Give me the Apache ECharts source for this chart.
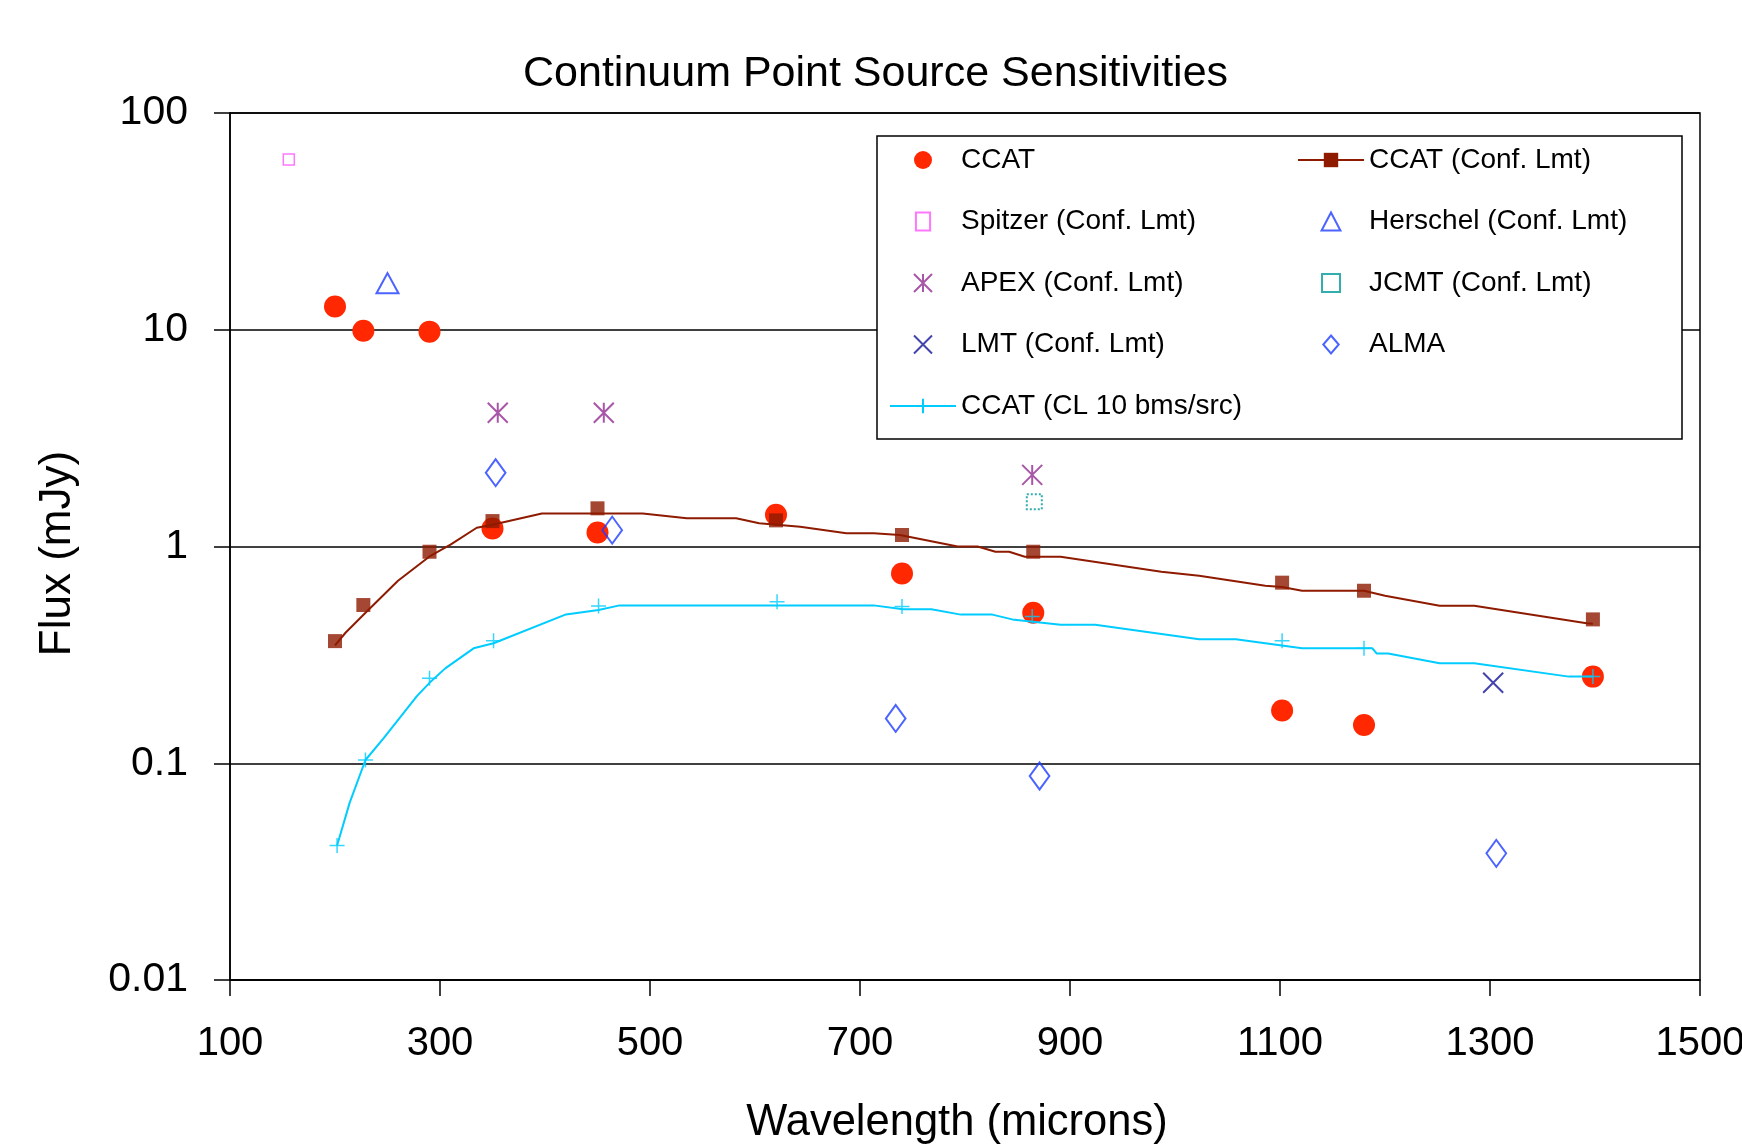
<!DOCTYPE html>
<html>
<head>
<meta charset="utf-8">
<script src="https://cdn.jsdelivr.net/npm/echarts@6/dist/echarts.min.js"></script>
<style>html,body{margin:0;padding:0;background:#fff;overflow:hidden}#c{width:1742px;height:1145px}</style>
</head>
<body>
<div id="c"></div>
<script>
// ---- data (wavelength in microns, flux in mJy) ----
const ccatX = [200, 227, 290, 350, 450, 620, 740, 865, 1102, 1180, 1398];
const ccatY = [12.8, 9.9, 9.8, 1.21, 1.16, 1.40, 0.75, 0.495, 0.175, 0.150, 0.251];

const confMarkX = [200, 227, 290, 350, 450, 620, 740, 865, 1102, 1180, 1398];
const confMarkY = [0.366, 0.537, 0.946, 1.31, 1.50, 1.32, 1.13, 0.946, 0.681, 0.625, 0.461];

const confLineX = [200, 210, 230, 260, 290, 310, 335, 350, 397, 493, 535, 582, 604, 643, 687, 713, 738, 793, 812, 829, 842, 857, 891, 987, 1023, 1086, 1102, 1121, 1180, 1200, 1252, 1285, 1392, 1398];
const confLineY = [0.35, 0.40, 0.50, 0.695, 0.90, 1.02, 1.22, 1.26, 1.42, 1.42, 1.35, 1.35, 1.28, 1.234, 1.15, 1.15, 1.13, 1.0, 1.0, 0.946, 0.946, 0.897, 0.897, 0.765, 0.733, 0.659, 0.65, 0.625, 0.625, 0.593, 0.533, 0.533, 0.442, 0.44];

const clMarkX = [202, 229, 290, 351, 451, 621, 740, 864, 1102, 1180, 1398];
const clMarkY = [0.0417, 0.1035, 0.2466, 0.3675, 0.531, 0.556, 0.528, 0.475, 0.3675, 0.339, 0.251];

const clLineX = [202, 214, 229, 246, 278, 290, 305, 332, 351, 420, 451, 471, 643, 713, 741, 768, 796, 826, 845, 891, 924, 1023, 1058, 1086, 1121, 1188, 1192, 1203, 1252, 1285, 1375, 1398];
const clLineY = [0.0417, 0.0658, 0.1035, 0.130, 0.204, 0.235, 0.274, 0.339, 0.358, 0.486, 0.509, 0.535, 0.535, 0.535, 0.513, 0.513, 0.485, 0.485, 0.461, 0.436, 0.436, 0.373, 0.373, 0.358, 0.339, 0.339, 0.321, 0.321, 0.289, 0.289, 0.251, 0.251];

const spitzerX = [156];          const spitzerY = [61];
const herschelX = [250];         const herschelY = [16.4];
const apexX = [355, 456, 864];   const apexY = [4.14, 4.14, 2.14];
const jcmtX = [866];             const jcmtY = [1.61];
const lmtX = [1303];             const lmtY = [0.235];
const almaX = [353, 464, 734, 871, 1306];
const almaY = [2.19, 1.19, 0.161, 0.0873, 0.0384];

const xTicks = {min: 100, max: 1500, step: 200};
const yTicks = {min: 0.01, max: 100};

const pairs = (xs, ys) => xs.map((x, i) => [x, ys[i]]);

const FONT = '"Liberation Sans", Arial, sans-serif';
const ASTER = 'path://M0,0L10,10M10,0L0,10M5,0L5,10';
const CROSS = 'path://M0,0L10,10M10,0L0,10';
const PLUS = 'path://M5,0L5,10M0,5L10,5';
const SQUARE = 'path://M0,0H10V10H0Z';
const TALLRECT = 'path://M0,0H11V14H0Z';
const TRIANGLE = 'path://M11,0L22,21H0Z';
const DIAMOND = 'path://M12,0L24,14L12,28L0,14Z';
const NOFILL = 'rgba(0,0,0,0)';

const chart = echarts.init(document.getElementById('c'), null, {renderer: 'canvas'});

const legendText = {fontSize: 28, fontFamily: FONT, color: '#000', lineHeight: 30};

chart.setOption({
  animation: false,
  backgroundColor: '#fff',
  title: {
    text: 'Continuum Point Source Sensitivities',
    left: 523, top: 53, padding: 0,
    textStyle: {fontSize: 43, fontWeight: 'normal', fontFamily: FONT, color: '#000'}
  },
  grid: {left: 230, right: 42, top: 113, bottom: 165, show: true, borderColor: '#000', borderWidth: 1.5,
    containLabel: false, outerBoundsMode: 'none'},
  xAxis: {
    type: 'value', min: xTicks.min, max: xTicks.max, interval: xTicks.step,
    name: 'Wavelength (microns)', nameLocation: 'middle', nameGap: 121,
    nameTextStyle: {fontSize: 43.5, fontFamily: FONT, color: '#000', padding: [0, 16, 0, 0]},
    axisLine: {show: true, lineStyle: {color: '#000', width: 1.5}},
    axisTick: {show: true, inside: false, length: 16, lineStyle: {color: '#000', width: 1.5}},
    axisLabel: {fontSize: 40, fontFamily: FONT, color: '#000', margin: 44, formatter: v => String(v),
      showMinLabel: true, showMaxLabel: true, hideOverlap: false},
    splitLine: {show: false}
  },
  yAxis: {
    type: 'log', logBase: 10, min: yTicks.min, max: yTicks.max,
    name: 'Flux (mJy)', nameLocation: 'middle', nameGap: 150,
    nameTextStyle: {fontSize: 44, fontFamily: FONT, color: '#000', padding: [0, 14, 0, 0]},
    axisLine: {show: true, lineStyle: {color: '#000', width: 1.5}},
    axisTick: {show: true, inside: false, length: 16, lineStyle: {color: '#000', width: 1.5}},
    axisLabel: {fontSize: 41, fontFamily: FONT, color: '#000', margin: 42,
      formatter: v => String(+v.toPrecision(3))},
    splitLine: {show: true, lineStyle: {color: '#000', width: 1.5}},
    minorTick: {show: false}
  },
  graphic: [{
    type: 'rect', z: 3,
    shape: {x: 877, y: 136, width: 805, height: 303},
    style: {fill: '#fff', stroke: '#000', lineWidth: 1.5}
  }],
  legend: [{
    z: 6, orient: 'vertical', left: 889, top: 145, padding: 0, symbolKeepAspect: true,
    itemWidth: 66, itemHeight: 18, itemGap: 31.5, textStyle: legendText,
    data: ['CCAT', 'Spitzer (Conf. Lmt)', 'APEX (Conf. Lmt)', 'LMT (Conf. Lmt)', 'CCAT (CL 10 bms/src)']
  }, {
    z: 6, orient: 'vertical', left: 1297, top: 145, padding: 0, symbolKeepAspect: true,
    itemWidth: 66, itemHeight: 18, itemGap: 31.5, textStyle: legendText,
    data: ['CCAT (Conf. Lmt)', 'Herschel (Conf. Lmt)', 'JCMT (Conf. Lmt)', 'ALMA']
  }],
  series: [
    {name: 'CCAT', type: 'scatter', data: pairs(ccatX, ccatY), symbol: 'circle', symbolSize: 22,
      itemStyle: {color: '#FF2800', opacity: 1}},
    {name: 'CCAT (Conf. Lmt)', type: 'line', data: pairs(confLineX, confLineY), symbol: 'rect', symbolSize: 14,
      showSymbol: false, smooth: false,
      lineStyle: {color: '#8E1A00', width: 2}, itemStyle: {color: '#8E1A00'}},
    {name: 'CCAT (Conf. Lmt)', type: 'scatter', data: pairs(confMarkX, confMarkY), symbol: 'rect', symbolSize: 14,
      itemStyle: {color: '#8E1A00'}},
    {name: 'Spitzer (Conf. Lmt)', type: 'scatter', data: pairs(spitzerX, spitzerY), symbol: TALLRECT, symbolSize: [11, 11],
      symbolKeepAspect: false, itemStyle: {color: '#fff', borderColor: '#FF55FF', borderWidth: 1.5}},
    {name: 'Herschel (Conf. Lmt)', type: 'scatter', data: pairs(herschelX, herschelY), symbol: TRIANGLE, symbolSize: [22, 21],
      symbolKeepAspect: true, itemStyle: {color: NOFILL, borderColor: '#1F3DFF', borderWidth: 2}},
    {name: 'APEX (Conf. Lmt)', type: 'scatter', data: pairs(apexX, apexY), symbol: ASTER, symbolSize: 20,
      itemStyle: {color: NOFILL, borderColor: '#922C92', borderWidth: 2}},
    {name: 'JCMT (Conf. Lmt)', type: 'scatter', data: pairs(jcmtX, jcmtY), symbol: SQUARE, symbolSize: 15,
      symbolKeepAspect: true, itemStyle: {color: '#fff', borderColor: '#00999A', borderWidth: 2, borderType: 'dotted'}},
    {name: 'LMT (Conf. Lmt)', type: 'scatter', data: pairs(lmtX, lmtY), symbol: CROSS, symbolSize: 20,
      itemStyle: {color: NOFILL, borderColor: '#14149A', borderWidth: 2}},
    {name: 'ALMA', type: 'scatter', data: pairs(almaX, almaY), symbol: DIAMOND, symbolSize: [23, 27],
      symbolKeepAspect: true, itemStyle: {color: NOFILL, borderColor: '#1F3DFF', borderWidth: 2}},
    {name: 'CCAT (CL 10 bms/src)', type: 'line', data: pairs(clLineX, clLineY), symbol: PLUS, symbolSize: 15,
      showSymbol: false,
      lineStyle: {color: '#00CCFF', width: 2}, itemStyle: {color: NOFILL, borderColor: '#00CCFF', borderWidth: 1.5}},
    {name: 'CCAT (CL 10 bms/src)', type: 'scatter', data: pairs(clMarkX, clMarkY), symbol: PLUS, symbolSize: 15,
      itemStyle: {color: NOFILL, borderColor: '#00CCFF', borderWidth: 1.5}}
  ]
});
</script>
</body>
</html>
